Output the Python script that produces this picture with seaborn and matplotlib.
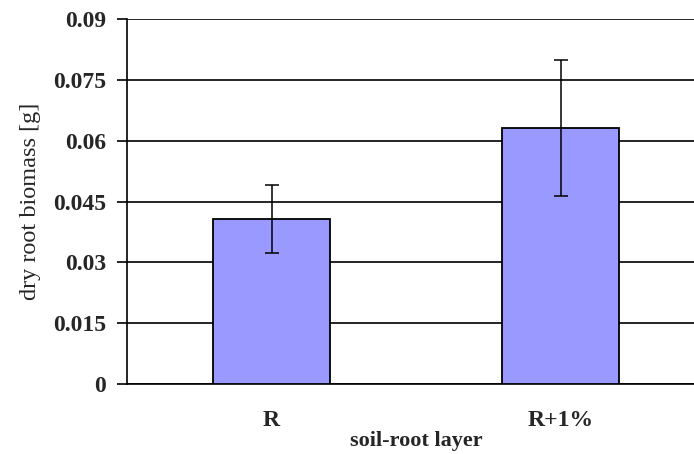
import matplotlib
matplotlib.use("Agg")
import matplotlib.pyplot as plt
import pandas as pd
import seaborn as sns

# values
layers = ["R", "R+1%"]
biomass = [0.0406, 0.0631]
biomass_err = [0.0084, 0.0168]

sns.set_style("white")
plt.rcParams["font.family"] = ["Liberation Serif", "DejaVu Serif"]

df = pd.DataFrame({"layer": layers, "biomass": biomass})

fig = plt.figure(figsize=(6.94, 4.54), dpi=100)
ax = fig.add_axes([0.183, 0.154, 0.833, 0.804])

sns.barplot(
    data=df,
    x="layer",
    y="biomass",
    color="#9999FF",
    saturation=1,
    width=0.405,
    edgecolor="black",
    linewidth=1.3,
    errorbar=None,
    ax=ax,
    zorder=3,
)
ax.errorbar(
    range(len(layers)),
    biomass,
    yerr=biomass_err,
    fmt="none",
    ecolor="black",
    elinewidth=1.1,
    capsize=5,
    capthick=1.1,
    zorder=4,
)

ax.set_xlim(-0.5, 1.5)
ax.set_ylim(0, 0.09)
yt = [0, 0.015, 0.03, 0.045, 0.06, 0.075, 0.09]
ax.set_yticks(yt)
ax.set_yticklabels(["0", "0.015", "0.03", "0.045", "0.06", "0.075", "0.09"])
ax.yaxis.grid(True, color="black", linewidth=1.2, zorder=0)
ax.set_axisbelow(True)

ax.set_xticks([-0.5, 0.5, 1.5], minor=True)
ax.tick_params(axis="x", which="minor", length=7, width=1.2, color="black", direction="out")
ax.tick_params(axis="x", which="major", length=0, pad=19, labelsize=17)
ax.tick_params(axis="y", length=7, width=1.2, color="black", direction="out", pad=8, labelsize=17, left=True)
for lab in ax.get_xticklabels() + ax.get_yticklabels():
    lab.set_fontweight("bold")

for side in ["top", "right"]:
    ax.spines[side].set_visible(False)
for side in ["left", "bottom"]:
    ax.spines[side].set_color("black")
    ax.spines[side].set_linewidth(1.2)

ax.set_xlabel("soil-root layer", fontsize=16, fontweight="bold", labelpad=0)
ax.set_ylabel("dry root biomass [g]", fontsize=17.5, labelpad=9)

fig.savefig("out.png", dpi=100)
